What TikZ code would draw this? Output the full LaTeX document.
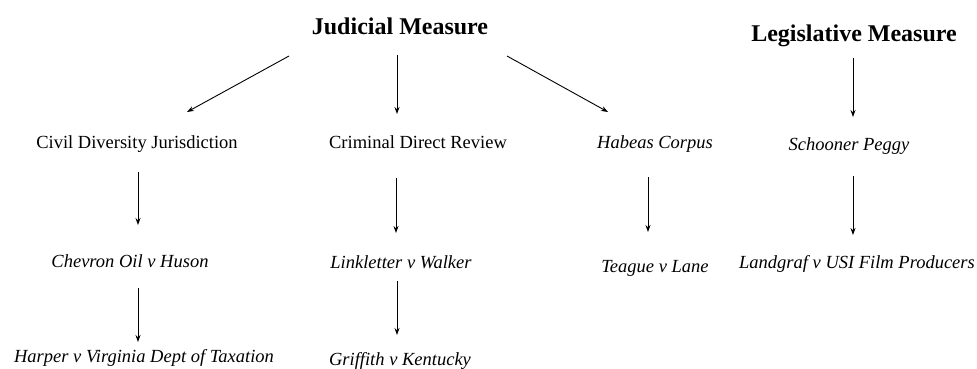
\documentclass[tikz,border=0pt]{standalone}
\usepackage{fontspec}
\setmainfont{Liberation Serif}
\usetikzlibrary{calc,arrows.meta}

\tikzset{
  head/.style={anchor=base, inner sep=0pt, font=\fontsize{24}{28}\selectfont\bfseries},
  topic/.style={anchor=base, inner sep=0pt, font=\fontsize{18.5}{22}\selectfont},
  casename/.style={anchor=base, inner sep=0pt, font=\fontsize{18.5}{22}\selectfont\itshape},
  link/.style={-{Stealth[length=7pt,width=5pt]}, line width=0.9pt},
}

\begin{document}
\begin{tikzpicture}[x=1pt, y=-1pt]
  \useasboundingbox (0,0) rectangle (977,369);

  % headings
  \node[head] (jud) at (400,35) {Judicial Measure};
  \node[head] (leg) at (854,42) {Legislative Measure};

  % second row
  \node[topic]    (civ)  at (137,148) {Civil Diversity Jurisdiction};
  \node[topic]    (crim) at (418,148) {Criminal Direct Review};
  \node[casename] (hab)  at (655,148) {Habeas Corpus};
  \node[casename] (sch)  at (849,150) {Schooner Peggy};

  % third row
  \node[casename] (chev) at (130,267) {Chevron Oil v Huson};
  \node[casename] (lnk)  at (401,268) {Linkletter v Walker};
  \node[casename] (teag) at (655,272) {Teague v Lane};
  \node[casename] (land) at (857,268) {Landgraf v USI Film Producers};

  % fourth row
  \node[casename] (harp) at (144,362) {Harper v Virginia Dept of Taxation};
  \node[casename] (grif) at (400,365) {Griffith v Kentucky};

  % connectors
  \draw[link] ($(jud.base)+(-111,21)$) -- ($(civ.base)+(50,-36)$);
  \draw[link] ($(jud.base)+(-3,20)$)   -- ($(crim.base)+(-21,-34)$);
  \draw[link] ($(jud.base)+(107,21)$)  -- ($(hab.base)+(-47,-36)$);
  \draw[link] ($(leg.base)+(-1,16)$)   -- ($(sch.base)+(4,-33)$);
  \draw[link] ($(civ.base)+(1,24)$)    -- ($(chev.base)+(8,-42)$);
  \draw[link] ($(crim.base)+(-22,30)$) -- ($(lnk.base)+(-5,-35)$);
  \draw[link] ($(hab.base)+(-7,29)$)   -- ($(teag.base)+(-7,-40)$);
  \draw[link] ($(sch.base)+(4,26)$)    -- ($(land.base)+(-4,-33)$);
  \draw[link] ($(chev.base)+(8,21)$)   -- ($(harp.base)+(-6,-20)$);
  \draw[link] ($(lnk.base)+(-4,13)$)   -- ($(grif.base)+(-3,-30)$);
\end{tikzpicture}
\end{document}
